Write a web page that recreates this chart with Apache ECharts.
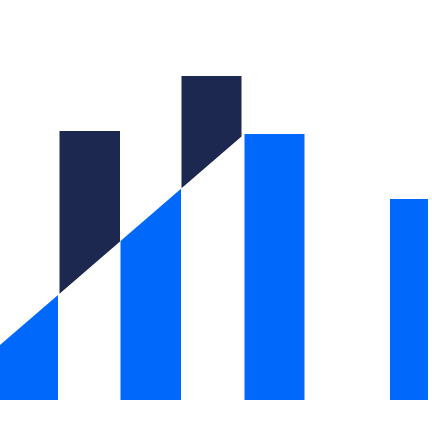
<!DOCTYPE html>
<html style="height: 100%">
<head>
    <meta charset="utf-8">
</head>
<body style="height: 100%; margin: 0; background: #fff">
    <div id="container" style="width: 432px; height: 432px"></div>
    <script type="text/javascript" src="https://cdn.jsdelivr.net/npm/echarts@6/dist/echarts.min.js"></script>
    <script type="text/javascript">
        // bars, left to right (x in axis units)
        var barNames = ['b1', 'b2', 'b3', 'b4', 'b5', 'b6'];
        var barFrom = [0, 59.5, 120.5, 181.5, 244.5, 390];
        var barTo = [58, 120, 181, 241.5, 304.5, 428];
        var barTop = [0, 269, 0, 324, 266, 201];
        // 'below' = blue up to the slope, 'above' = navy from the slope up, 'full' = plain blue bar
        var barKind = ['below', 'above', 'below', 'above', 'full', 'full'];
        // the diagonal cut
        var slopeStart = [0, 55];
        var slopeEnd = [241.5, 263.5];

        var blue = '#0068FA';
        var navy = '#1D2850';

        function slopeAt(x) {
            var k = (slopeEnd[1] - slopeStart[1]) / (slopeEnd[0] - slopeStart[0]);
            return slopeStart[1] + k * (x - slopeStart[0]);
        }

        var data = barNames.map(function (n, i) {
            return [barFrom[i], barTo[i], barTop[i], i];
        });

        var dom = document.getElementById('container');
        var myChart = echarts.init(dom);

        var option = {
            animation: false,
            grid: { left: 0, right: 0, top: 0, bottom: 32 },
            xAxis: { type: 'value', min: 0, max: 432, show: false },
            yAxis: { type: 'value', min: 0, max: 400, show: false },
            series: [{
                type: 'custom',
                data: data,
                renderItem: function (params, api) {
                    var x0 = api.value(0), x1 = api.value(1), top = api.value(2);
                    var kind = barKind[api.value(3)];
                    var pts, color;
                    if (kind === 'below') {
                        pts = [[x0, 0], [x1, 0], [x1, slopeAt(x1)], [x0, slopeAt(x0)]];
                        color = blue;
                    } else if (kind === 'above') {
                        pts = [[x0, slopeAt(x0)], [x1, slopeAt(x1)], [x1, top], [x0, top]];
                        color = navy;
                    } else {
                        pts = [[x0, 0], [x1, 0], [x1, top], [x0, top]];
                        color = blue;
                    }
                    return {
                        type: 'polygon',
                        shape: { points: pts.map(function (p) { return api.coord(p); }) },
                        style: { fill: color }
                    };
                }
            }]
        };
        myChart.setOption(option, true);
    </script>
</body>
</html>
